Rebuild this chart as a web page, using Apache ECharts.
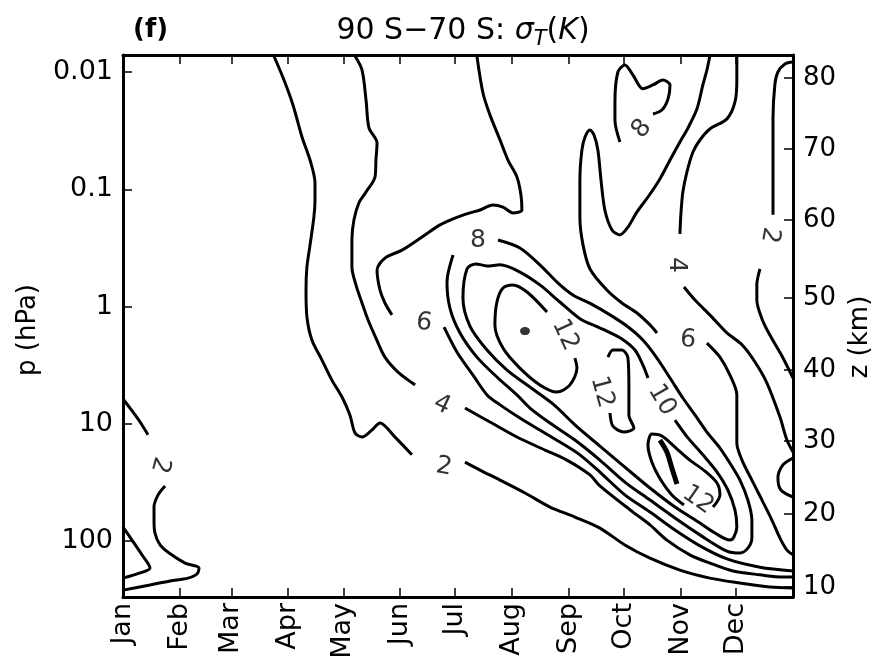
<!DOCTYPE html>
<html><head><meta charset="utf-8">
<script src="https://cdn.jsdelivr.net/npm/echarts@6.0.0/dist/echarts.min.js"></script>
<style>html,body{margin:0;padding:0;background:#fff}#c{width:872px;height:661px}</style>
</head><body><div id="c"></div>
<script>
// ---------------- data (day of year, pressure hPa) ----------------
const monthNames = ['Jan','Feb','Mar','Apr','May','Jun','Jul','Aug','Sep','Oct','Nov','Dec'];
const monthStartDay = [0,31,59,90,120,151,181,212,243,273,304,334];
const pressureTicks = [0.01,0.1,1,10,100];
const pressureTickLabels = ['0.01','0.1','1','10','100'];
const heightTicksKm = [80,70,60,50,40,30,20,10];
const heightTickPressure = [0.01125,0.0454,0.183,0.846,3.48,14.03,58.9,247];
const pTop = 0.00716, pBottom = 300;

// contour level 2
const c2_mainA = [[82.2,0.0073],[87.7,0.0117],[92.6,0.0191],[97.5,0.0358],[101.9,0.0563],[104.6,0.0884],[104.6,0.1235],[104.0,0.172],[101.9,0.298],[100.2,0.46],[99.7,0.723],[100.2,1.228],[102.9,1.93],[108.4,2.86],[113.8,4.24],[119.3,5.91],[123.6,8.4],[126.4,12.0],[130.2,12.97],[135.6,11.3],[140.0,9.85],[148.2,13.0],[157.4,18.4]];
const c2_mainB = [[186.3,21.2],[194.5,24.8],[205.4,30.2],[219.0,38.9],[232.6,51.3],[246.2,62.4],[259.8,77.5],[273.4,108],[287.1,140],[303.4,177],[319.7,207],[336.1,228],[352.4,247],[365,252]];
const c2_eastA = [[365,0.00822],[360.6,0.00853],[356.8,0.0100],[355.1,0.0129],[354.1,0.0251],[354.1,0.067],[354.1,0.165]];
const c2_eastB = [[347.0,0.478],[345.3,0.654],[345.3,0.88],[348.1,1.275],[352.4,1.75],[359.0,2.64],[365,4.07]];
const c2_janA = [[0,6.14],[3.8,7.34],[9.3,9.66],[13.6,12.4]];
const c2_janB = [[22.9,33.9],[19.1,40.4],[16.9,51.3],[16.9,66.2],[17.4,85.4],[20.2,108],[25.1,126.6],[33.8,154],[41.4,170],[40.3,191],[35.4,207],[25.6,219],[14.7,237],[0,262]];
// contour level 4
const c4_jan = [[0,75.9],[4.9,98.1],[10.3,131],[14.7,170],[9.3,187],[0,207]];
const c4_mainA = [[126.4,0.0073],[130.2,0.00961],[132.4,0.01733],[134.0,0.03],[138.4,0.0403],[137.8,0.0563],[137.3,0.0786],[132.4,0.1056],[128.5,0.131],[125.8,0.183],[124.7,0.271],[124.7,0.46],[126.9,0.654],[130.2,0.933],[133.5,1.304],[137.8,1.857],[142.7,2.7],[149.8,3.62],[159.1,4.66]];
const c4_mainB = [[186.3,7.34],[199.9,9.66],[214.6,12.97],[229.9,16.75],[241.8,20.4],[254.4,27.3],[259.8,33.9],[277.8,56.6],[287.1,72.8],[296.3,98.1],[308.8,131],[319.7,154],[332.3,180],[347.0,194],[359.5,203],[365,203]];
const c4_eastA = [[334.4,0.0073],[334.4,0.0117],[333.4,0.018],[329.0,0.0251],[319.7,0.0306],[314.3,0.038],[310.5,0.0481],[307.2,0.0713],[305.0,0.1056],[303.9,0.165],[303.4,0.24]];
const c4_eastB = [[305.6,0.682],[311.6,0.88],[319.7,1.178],[329.0,1.68],[337.2,2.12],[344.3,2.97],[350.8,4.49],[357.9,8.76],[361.7,13.76],[365,17.4]];
const c4_bump = [[365,19.6],[359.5,22.4],[356.8,29.0],[358.4,36.7],[365,42.1]];
// contour level 6
const c6_westA = [[192.8,0.0073],[196.1,0.0151],[199.9,0.0232],[205.4,0.038],[209.7,0.0563],[214.6,0.0786],[216.8,0.1117],[217.3,0.1503],[212.4,0.159],[207.0,0.1417],[201.5,0.136],[194.5,0.1503],[189.0,0.159],[180.8,0.176],[172.7,0.201],[162.9,0.255],[152.0,0.33],[142.7,0.386],[138.4,0.488],[140.0,0.723],[142.7,0.933],[146.5,1.178]];
const c6_westB = [[174.9,1.5],[181.9,2.44],[190.6,3.83],[198.3,5.67],[205.4,6.9],[216.2,8.93],[227.1,11.31],[238.0,14.3],[248.9,18.4],[259.8,25.8],[273.4,40.4],[287.1,56.6],[300.7,80.6],[314.3,110],[329.0,142],[347.0,167],[365,180]];
const c6_eastA = [[319.7,0.0073],[318.1,0.00961],[315.9,0.0129],[312.7,0.0206],[307.8,0.03],[303.4,0.0395],[298.0,0.0563],[292.5,0.0816],[286.0,0.1164],[280.0,0.156],[275.1,0.21],[270.7,0.245],[266.4,0.2226],[262.5,0.1503],[260.4,0.0834],[258.7,0.0463],[256.6,0.0344],[254.4,0.0312],[251.7,0.0358],[250.0,0.0463],[248.9,0.0834],[248.9,0.172],[250.6,0.298],[254.4,0.478],[263.6,0.723],[271.8,0.933],[280.0,1.135],[287.1,1.434],[290.9,1.68]];
const c6_eastB = [[318.1,2.05],[325.2,2.7],[330.6,3.83],[334.4,5.67],[334.4,9.29],[334.4,14.6],[337.2,20.4],[342.6,30.2],[348.1,44.7],[353.5,66.2],[357.9,94.3],[361.7,119.4],[365,131]];
// contour level 8
const c8_upper = [[270.7,0.0395],[268.0,0.0257],[268.0,0.018],[269.6,0.01],[273.4,0.0087],[277.8,0.0106],[283.2,0.0139],[288.7,0.0129],[294.1,0.0117],[298.0,0.0129],[296.9,0.017],[293.6,0.0211],[288.7,0.0228]];
const c8_main = [[204.3,0.271],[216.2,0.317],[227.1,0.441],[236.4,0.618],[245.1,0.796],[256.0,0.968],[265.3,1.178],[274.5,1.467],[283.2,1.931],[290.9,2.75],[298.0,4.07],[305.0,6.03],[311.6,8.4],[318.1,11.76],[325.2,16.1],[330.6,21.6],[336.1,30.2],[340.4,44.7],[342.6,66.2],[342.6,94.3],[340.4,115],[336.1,126.6],[329.0,122],[314.3,88.6],[300.7,63.6],[287.1,44.7],[273.4,31.4],[259.8,20.4],[246.2,13.76],[232.6,9.85],[221.7,7.34],[214.6,5.67],[203.7,3.99],[192.8,2.7],[183.6,1.68],[178.1,1.03],[176.5,0.618],[179.8,0.363]];
// contour level 10
const c10_A = [[256.0,1.434],[263.6,1.62],[271.8,1.89],[278.9,2.35],[283.2,3.15],[286.0,4.07]];
const c10_B = [[300.7,9.29],[307.8,13.2],[315.9,18.4],[323.6,25.8],[329.5,36.7],[333.4,54.4],[334.4,75.9],[332.8,92.4],[330.6,98.1],[322.5,85.4],[314.3,70.2],[300.7,51.3],[287.1,35.3],[273.4,23.4],[259.8,15.5],[246.2,10.2],[234.2,6.77],[221.7,4.86],[209.2,3.48],[198.3,2.35],[189.0,1.467],[185.2,0.846],[187.4,0.478],[192.3,0.433],[198.3,0.451],[205.4,0.441],[216.2,0.508],[227.1,0.654],[238.0,0.915],[248.9,1.27],[256.0,1.434]];
// contour level 12
const c12_aug = [[246.2,2.75],[247.3,3.35],[243.5,4.66],[236.4,5.36],[227.1,4.66],[216.2,3.35],[207.0,2.26],[202.6,1.434],[203.7,0.915],[207.0,0.695],[212.4,0.654],[220.1,0.752],[231.0,1.114]];
const c12_sep = [[265.3,8.09],[266.9,10.45],[272.9,11.76],[278.3,10.87],[275.6,8.4],[275.6,4.86],[275.1,2.75],[271.8,2.35],[266.9,2.35],[264.2,2.70]];
const c12_nov = [[305.6,49.2],[299.0,40.4],[293.0,30.2],[288.1,21.2],[286.0,15.2],[288.1,12.2],[293.6,12.7],[300.7,15.8],[308.8,20.4],[317.0,25.3],[323.6,32.0],[325.2,40.4],[321.4,51.3]];
// contour level 14 (tiny maxima)
const c14_streak = [[292.5,13.76],[296.3,17.4],[299.0,23.8],[301.8,32.6]];
const c14_peak = [[219.0,1.62]];
// inline contour labels
const contourLabelPos = [[20.2,22.4],[174.9,23.4],[173.8,6.9],[164.0,1.38],[193.4,0.271],[240.8,1.75],[260.9,5.36],[293.6,6.27],[313.2,44.7],[307.8,1.93],[301.8,0.441],[282.7,0.0306],[352.4,0.245]];
const contourLabelLevel = [2,2,4,6,8,12,12,10,12,6,4,8,2];

// ---------------- styling ----------------
const labelRotation = [-105,-10,-25,-8,0,-65,-75,-60,-35,-5,-90,50,-100];
const FONT = 'DejaVu Sans';
const BLACK = '#000';
function nearestIdx(arr, v){let b=0,bd=Infinity;arr.forEach((a,i)=>{const d=Math.abs(Math.log(a)-Math.log(v));if(d<bd){bd=d;b=i;}});return b;}
function nearestLin(arr, v){let b=0,bd=Infinity;arr.forEach((a,i)=>{const d=Math.abs(a-v);if(d<bd){bd=d;b=i;}});return b;}

const contourLines = [c2_mainA,c2_mainB,c2_eastA,c2_eastB,c2_janA,c2_janB,c4_jan,c4_mainA,c4_mainB,c4_eastA,c4_eastB,c4_bump,
  c6_westA,c6_westB,c6_eastA,c6_eastB,c8_upper,c8_main,c10_A,c10_B,c12_aug,c12_sep,c12_nov];

const frameLine = {show:true, onZero:false, lineStyle:{color:BLACK, width:3}};
const tickStyle = {color:BLACK, width:1.5};

const series = contourLines.map(d => ({
  type:'line', data:d, symbol:'none', showSymbol:false, smooth:0.3, clip:true,
  lineStyle:{color:BLACK, width:3}, silent:true, animation:false, z:3
}));
series.push({type:'line', data:c14_streak, symbol:'none', smooth:0.3, lineStyle:{color:BLACK,width:5}, silent:true, animation:false, z:3});
series.push({type:'scatter', data:c14_peak, symbol:'circle', symbolSize:[10,8], itemStyle:{color:BLACK}, silent:true, animation:false, z:3});
series.push({
  type:'scatter', symbolSize:0, silent:true, animation:false, z:4,
  data: contourLabelPos.map((p,i)=>({value:p, name:String(contourLabelLevel[i]), label:{rotate:labelRotation[i]}})),
  label:{show:true, position:'inside', formatter:'{b}', fontSize:25, color:BLACK, textBorderWidth:0, fontFamily:FONT}
});

const chart = echarts.init(document.getElementById('c'), null, {renderer:'canvas'});
chart.setOption({
  animation:false,
  backgroundColor:'#fff',
  title:[
    {text:'(f)', left:128, top:12, textStyle:{fontFamily:FONT, fontWeight:'bold', fontSize:26, color:BLACK}},
    {text:'{n|90 S\u221270 S: }{m|\u03c3}{s|T}{n|(}{m|K}{n|)}', left:458, textAlign:'center', top:7,
     textStyle:{fontWeight:'normal', rich:{
       n:{fontFamily:FONT, fontSize:30, fontWeight:'normal', color:BLACK, lineHeight:38},
       m:{fontFamily:FONT, fontSize:30, fontWeight:'normal', fontStyle:'italic', color:BLACK, lineHeight:38},
       s:{fontFamily:FONT, fontSize:21, fontWeight:'normal', fontStyle:'italic', color:BLACK, lineHeight:38, verticalAlign:'bottom'}
     }}}
  ],
  grid:{left:123, right:79, top:55, bottom:64, containLabel:false, outerBoundsMode:'none'},
  xAxis:[
    {type:'value', position:'bottom', min:0, max:365,
     axisLine:frameLine,
     axisTick:{show:true, inside:true, length:9, customValues:monthStartDay, lineStyle:tickStyle},
     axisLabel:{show:true, customValues:monthStartDay, rotate:90, margin:6, fontSize:27, fontFamily:FONT, color:BLACK,
       formatter:(v)=>monthNames[nearestLin(monthStartDay,v)]},
     splitLine:{show:false}},
    {type:'value', position:'top', min:0, max:365,
     axisLine:frameLine,
     axisTick:{show:true, inside:true, length:9, customValues:monthStartDay, lineStyle:tickStyle},
     axisLabel:{show:false}, splitLine:{show:false}}
  ],
  yAxis:[
    {type:'log', logBase:10, position:'left', inverse:true, min:pTop, max:pBottom,
     axisLine:frameLine,
     axisTick:{show:true, inside:true, length:9, customValues:pressureTicks, lineStyle:tickStyle},
     axisLabel:{show:true, customValues:pressureTicks, margin:10, fontSize:27, fontFamily:FONT, color:BLACK,
       formatter:(v)=>pressureTickLabels[nearestIdx(pressureTicks,v)]},
     splitLine:{show:false},
     name:'p (hPa)', nameLocation:'middle', nameRotate:90, nameGap:82,
     nameTextStyle:{fontFamily:FONT, fontSize:26, color:BLACK, padding:[0,8,0,0]}},
    {type:'log', logBase:10, position:'right', inverse:true, min:pTop, max:pBottom,
     axisLine:frameLine,
     axisTick:{show:true, inside:true, length:9, customValues:heightTickPressure, lineStyle:tickStyle},
     axisLabel:{show:true, customValues:heightTickPressure, margin:10, fontSize:26, fontFamily:FONT, color:BLACK,
       formatter:(v)=>String(heightTicksKm[nearestIdx(heightTickPressure,v)])},
     splitLine:{show:false},
     name:'z (km)', nameLocation:'middle', nameRotate:90, nameGap:46,
     nameTextStyle:{fontFamily:FONT, fontSize:26, color:BLACK, padding:[0,22,0,0]}}
  ],
  series: series
});
</script></body></html>
